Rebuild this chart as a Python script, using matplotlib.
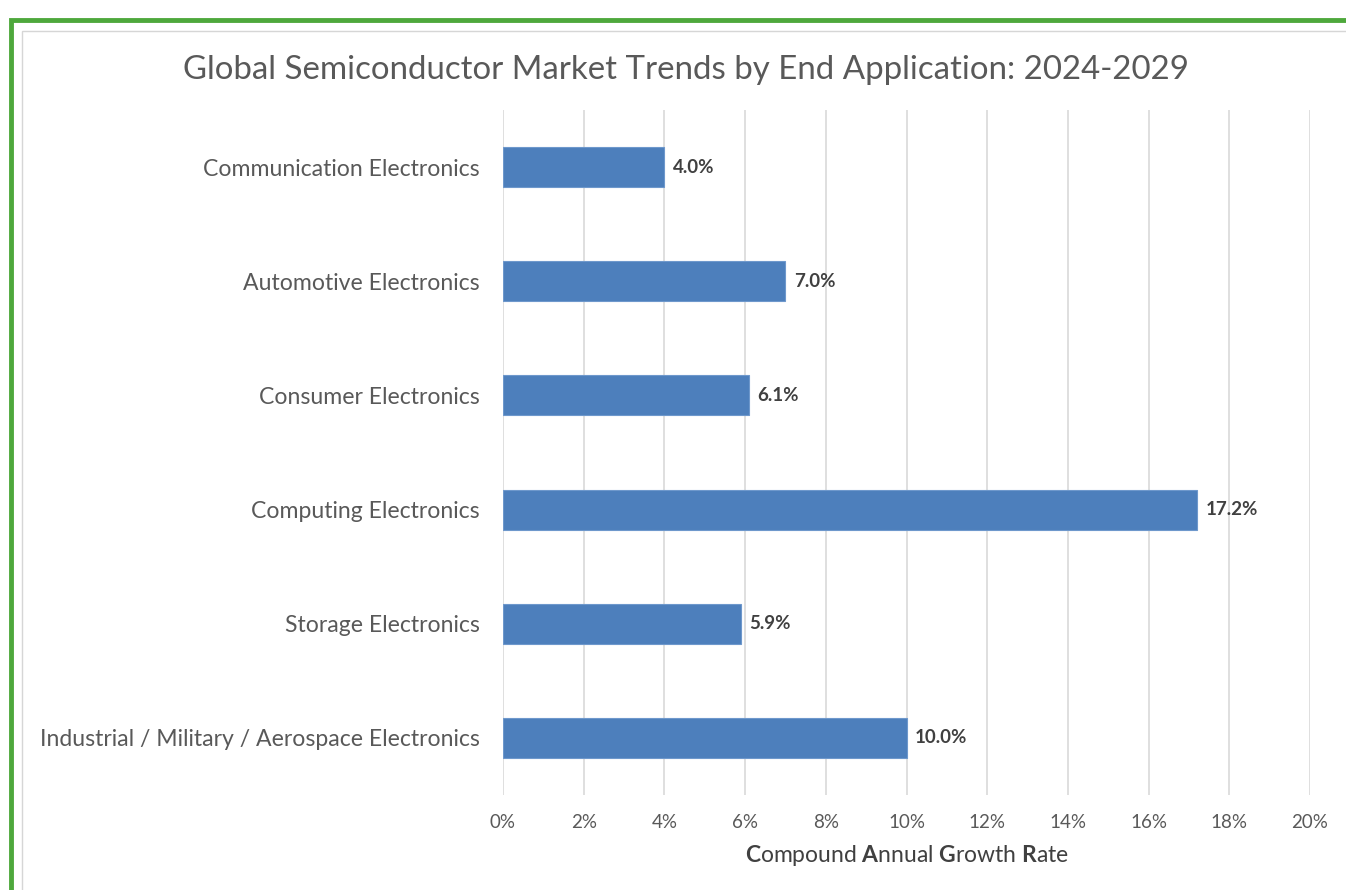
import matplotlib
matplotlib.use("Agg")
import matplotlib.pyplot as plt
from matplotlib.patches import Rectangle

categories = [
    "Communication Electronics",
    "Automotive Electronics",
    "Consumer Electronics",
    "Computing Electronics",
    "Storage Electronics",
    "Industrial / Military / Aerospace Electronics",
]
cagr = [4.0, 7.0, 6.1, 17.2, 5.9, 10.0]
xticks = [0, 2, 4, 6, 8, 10, 12, 14, 16, 18, 20]

plt.rcParams["font.family"] = ["Lato", "DejaVu Sans"]
plt.rcParams["mathtext.fontset"] = "custom"
plt.rcParams["mathtext.rm"] = "Lato"
plt.rcParams["mathtext.bf"] = "Lato:bold"

W, H = 1346, 890
fig = plt.figure(figsize=(W / 100, H / 100), dpi=100)
fig.patch.set_facecolor("white")

# green frame and inner grey frame
fig.add_artist(Rectangle((11 / W, -0.05), 1.1, 1 - 20 / H + 0.05, transform=fig.transFigure,
                         fill=False, edgecolor="#4ea83c", linewidth=3.5))
fig.add_artist(Rectangle((22 / W, -0.05), 1.1, 1 - 31 / H + 0.05, transform=fig.transFigure,
                         fill=False, edgecolor="#d6d6d6", linewidth=1))

ax = fig.add_axes([503 / W, 1 - 795 / H, (1310 - 503) / W, (795 - 110) / H])
ypos = list(range(len(categories)))
ax.barh(ypos, cagr, height=0.35, color="#4d7fbc", edgecolor="#6e98cc", linewidth=0.8, zorder=3)
ax.set_ylim(len(categories) - 0.5, -0.5)
ax.set_xlim(0, 20)
ax.set_yticks(ypos)
ax.set_yticklabels(categories, fontsize=16.6, color="#595959")
ax.set_xticks(xticks)
ax.set_xticklabels([f"{t}%" for t in xticks], fontsize=13.5, color="#595959")
ax.tick_params(axis="y", length=0, pad=17)
ax.tick_params(axis="x", length=0, pad=14)
ax.grid(axis="x", color="#d9d9d9", linewidth=1.2, zorder=0)
for s in ax.spines.values():
    s.set_visible(False)

for y, v in zip(ypos, cagr):
    ax.annotate(f"{v:.1f}%", (v, y), xytext=(6, 0), textcoords="offset points",
                va="center", ha="left", fontsize=13.5, fontweight="bold", color="#404040")

ax.set_xlabel(r"$\mathbf{C}$ompound $\mathbf{A}$nnual $\mathbf{G}$rowth $\mathbf{R}$ate",
              fontsize=16.5, color="#404040", labelpad=8)

fig.text(686 / W, 1 - 70 / H, "Global Semiconductor Market Trends by End Application: 2024-2029",
         ha="center", va="center", fontsize=23.8, color="#595959")

fig.savefig("out.png", dpi=100)
